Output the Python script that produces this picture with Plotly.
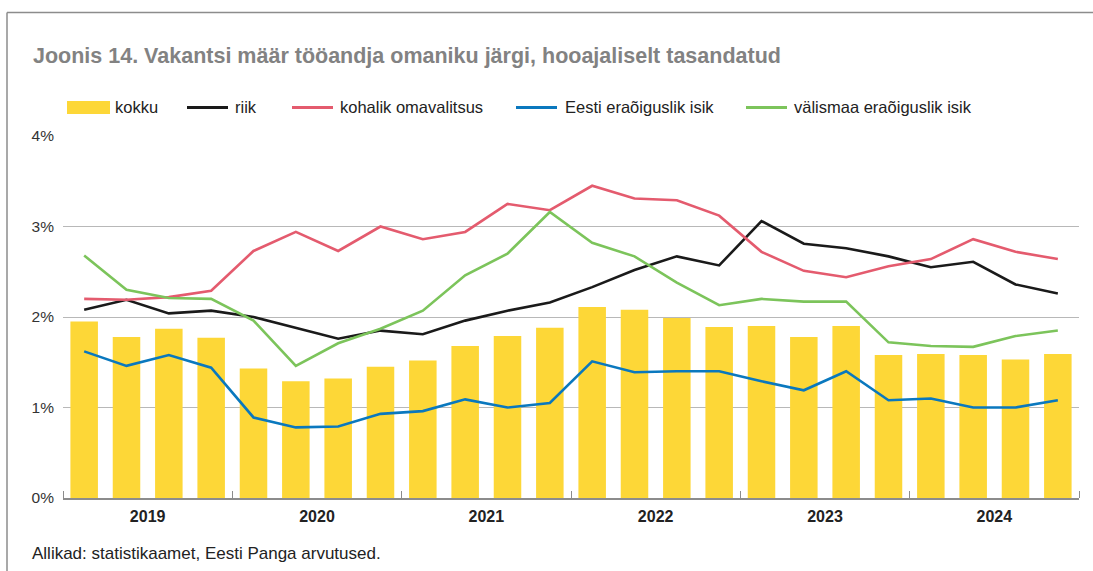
import plotly.graph_objects as go

years = ["2019", "2020", "2021", "2022", "2023", "2024"]
quarters = list(range(24))

kokku = [1.95, 1.78, 1.87, 1.77, 1.43, 1.29, 1.32, 1.45, 1.52, 1.68, 1.79, 1.88,
         2.11, 2.08, 1.99, 1.89, 1.90, 1.78, 1.90, 1.58, 1.59, 1.58, 1.53, 1.59]
riik = [2.08, 2.19, 2.04, 2.07, 2.00, 1.88, 1.76, 1.85, 1.81, 1.96, 2.07, 2.16,
        2.33, 2.52, 2.67, 2.57, 3.06, 2.81, 2.76, 2.67, 2.55, 2.61, 2.36, 2.26]
kohalik = [2.20, 2.19, 2.22, 2.29, 2.73, 2.94, 2.73, 3.00, 2.86, 2.94, 3.25, 3.18,
           3.45, 3.31, 3.29, 3.12, 2.72, 2.51, 2.44, 2.56, 2.64, 2.86, 2.72, 2.64]
eesti = [1.62, 1.46, 1.58, 1.44, 0.89, 0.78, 0.79, 0.93, 0.96, 1.09, 1.00, 1.05,
         1.51, 1.39, 1.40, 1.40, 1.29, 1.19, 1.40, 1.08, 1.10, 1.00, 1.00, 1.08]
valismaa = [2.68, 2.30, 2.21, 2.20, 1.96, 1.46, 1.71, 1.87, 2.07, 2.46, 2.70, 3.16,
            2.82, 2.67, 2.38, 2.13, 2.20, 2.17, 2.17, 1.72, 1.68, 1.67, 1.79, 1.85]

W, H = 1093, 571
L, R, T, B = 63, 14, 136, 73
PW, PH = W - L - R, H - T - B


def px(x):
    return (x - L) / PW


def py(y):
    return (H - B - y) / PH


year_centers = [4 * i + 1.5 for i in range(len(years))]
BAR_COL = "#FDD737"

fig = go.Figure()
fig.add_trace(go.Bar(x=quarters, y=kokku, name="kokku", marker_color=BAR_COL,
                     marker_line_width=0, width=0.65, showlegend=False))
line_specs = [
    ("riik", riik, "#1a1a1a"),
    ("kohalik omavalitsus", kohalik, "#E45B6E"),
    ("Eesti eraõiguslik isik", eesti, "#0A78BE"),
    ("välismaa eraõiguslik isik", valismaa, "#7CC45B"),
]
for name, vals, col in line_specs:
    fig.add_trace(go.Scatter(x=quarters, y=vals, name=name, mode="lines",
                             line=dict(color=col, width=2.6), showlegend=False))

FONT = "Liberation Sans, Arial, sans-serif"
fig.update_layout(
    width=W, height=H,
    paper_bgcolor="white", plot_bgcolor="white",
    margin=dict(l=L, r=R, t=T, b=B, autoexpand=False),
    font=dict(family=FONT, color="#222222", size=14),
    title=dict(text="Joonis 14. Vakantsi määr tööandja omaniku järgi, hooajaliselt tasandatud",
               x=33 / W, xanchor="left", xref="container", y=1 - 55 / H, yanchor="middle",
               yref="container",
               font=dict(size=21.5, color="#828282", family=FONT, weight="bold")),
    showlegend=False,
    bargap=0.35,
)
fig.update_xaxes(range=[-0.5, 23.5], tickvals=year_centers, ticktext=years,
                 ticks="", showgrid=False, showline=True, linecolor="#8c8c8c", linewidth=1.5,
                 tickfont=dict(size=16, color="#222222", weight="bold"), ticklabelstandoff=3,
                 minor=dict(tick0=-0.5, dtick=4, ticks="inside", ticklen=7,
                            tickcolor="#8c8c8c", tickwidth=1, showgrid=False),
                 zeroline=False, fixedrange=True)
fig.update_yaxes(range=[0, 4], tickvals=[0, 1, 2, 3, 4], ticktext=["0%", "1%", "2%", "3%", "4%"],
                 showgrid=True, gridcolor="#b8b8b8", gridwidth=1.2, zeroline=False,
                 showline=False, ticks="", ticklabelstandoff=8,
                 tickfont=dict(size=15.5, color="#333333"), fixedrange=True)

# frame lines (top and left)
fig.add_shape(type="line", xref="paper", yref="paper", x0=px(7), x1=px(W + 20),
              y0=py(12.5), y1=py(12.5), line=dict(color="#8c8c8c", width=1.5))
fig.add_shape(type="line", xref="paper", yref="paper", x0=px(7), x1=px(7),
              y0=py(H + 20), y1=py(12.5), line=dict(color="#8c8c8c", width=1.5))

# legend (drawn manually to match the wide bar swatch and spacing)
LEG_Y = 107.5
fig.add_shape(type="rect", xref="paper", yref="paper", x0=px(67), x1=px(110),
              y0=py(114), y1=py(101), fillcolor=BAR_COL, line_width=0)
fig.add_annotation(text="kokku", xref="paper", yref="paper", x=px(113), y=py(LEG_Y),
                   xanchor="left", yanchor="middle", showarrow=False,
                   font=dict(size=16.5, color="#222222"))
leg_pos = [(187, 228, 233), (292, 333, 338), (516, 557, 563), (746, 787, 792)]
for (name, _, col), (x0, x1, xt) in zip(line_specs, leg_pos):
    fig.add_shape(type="line", xref="paper", yref="paper", x0=px(x0), x1=px(x1),
                  y0=py(LEG_Y), y1=py(LEG_Y), line=dict(color=col, width=2.8))
    fig.add_annotation(text=name, xref="paper", yref="paper", x=px(xt), y=py(LEG_Y),
                       xanchor="left", yanchor="middle", showarrow=False,
                       font=dict(size=16.5, color="#222222"))

fig.add_annotation(text="Allikad: statistikaamet, Eesti Panga arvutused.", xref="paper", yref="paper",
                   x=px(30), y=py(553), xanchor="left", yanchor="middle", showarrow=False,
                   font=dict(size=17, color="#222222"))

fig.write_html("out.html", config={"displayModeBar": False},
               post_script="document.body.style.margin='0px';")
